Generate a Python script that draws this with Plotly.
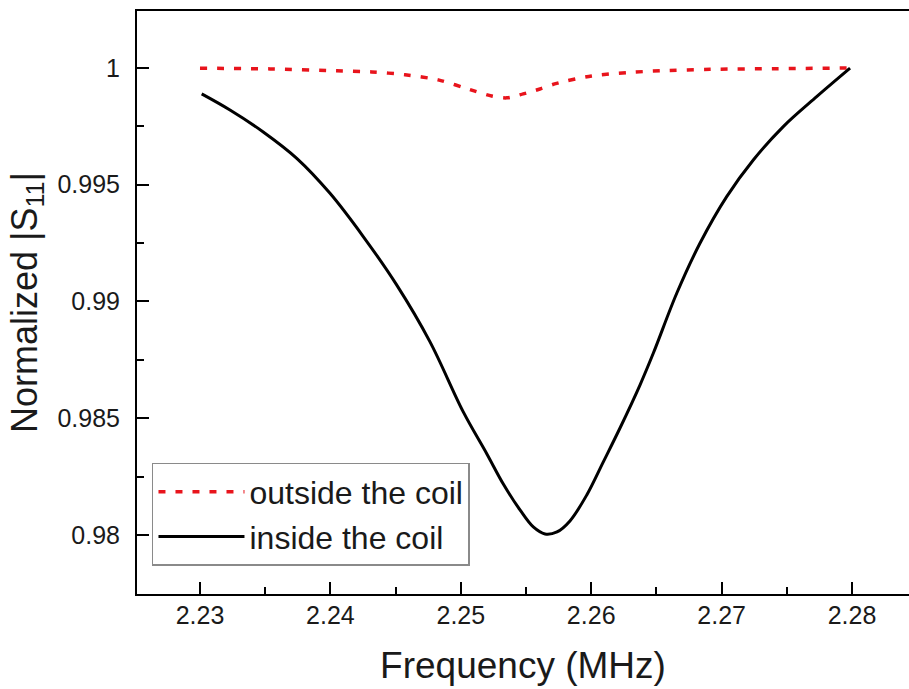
import plotly.graph_objects as go

# Frequency (MHz) and normalized |S11|
freq_outside = [2.2300, 2.23537, 2.24048, 2.24317, 2.24572, 2.24827, 2.25096, 2.25237,
                2.25352, 2.25479, 2.25607, 2.25735, 2.26004, 2.26272, 2.26528, 2.26911,
                2.27422, 2.2800]
s11_outside = [0.99999, 0.99996, 0.99988, 0.99983, 0.99971, 0.99949, 0.99903, 0.99880,
               0.99872, 0.99889, 0.99910, 0.99934, 0.99966, 0.99980, 0.99988, 0.99994,
               0.99997, 1.0000]

freq_inside = [2.23013, 2.23230, 2.23485, 2.23742, 2.23997, 2.24252, 2.24508, 2.24764,
               2.25019, 2.25199, 2.25326, 2.25454, 2.25556, 2.25646, 2.25738, 2.25837,
               2.25966, 2.26093, 2.26221, 2.26374, 2.26476, 2.26656, 2.26834, 2.27039,
               2.27243, 2.27473, 2.27729, 2.27985]
s11_inside = [0.99889, 0.99820, 0.99726, 0.99613, 0.99463, 0.99278, 0.99071, 0.98827,
              0.98527, 0.98348, 0.98218, 0.98107, 0.98034, 0.98004, 0.98013, 0.98060,
              0.98171, 0.98313, 0.98458, 0.98642, 0.98778, 0.99035, 0.99249, 0.99449,
              0.99606, 0.99749, 0.99877, 0.99999]

x_tickvals = [2.23, 2.24, 2.25, 2.26, 2.27, 2.28]
x_ticktext = ["2.23", "2.24", "2.25", "2.26", "2.27", "2.28"]
y_tickvals = [0.98, 0.985, 0.99, 0.995, 1.0]
y_ticktext = ["0.98", "0.985", "0.99", "0.995", "1"]

FONT = "Liberation Sans, Arial, sans-serif"
TXT = "#1a1a1a"

fig = go.Figure()
fig.add_trace(go.Scatter(
    x=freq_outside, y=s11_outside, mode="lines", name="outside the coil",
    line=dict(color="#e8141c", width=3.5, dash="7px,10px", shape="spline", smoothing=0.8),
))
fig.add_trace(go.Scatter(
    x=freq_inside, y=s11_inside, mode="lines", name="inside the coil",
    line=dict(color="black", width=3, shape="spline", smoothing=1.0),
))

fig.update_layout(
    width=909, height=689,
    margin=dict(l=137, r=0, t=11, b=95),
    paper_bgcolor="white", plot_bgcolor="white",
    font=dict(family=FONT, color=TXT),
    showlegend=True,
    legend=dict(
        x=0.0194, y=0.2247, xanchor="left", yanchor="top",
        bgcolor="white", bordercolor="#8a8a8a", borderwidth=1.5,
        font=dict(family=FONT, size=32, color=TXT),
        itemwidth=86, tracegroupgap=0,
    ),
    xaxis=dict(
        range=[2.22517, 2.28437],
        tickvals=x_tickvals, ticktext=x_ticktext,
        showgrid=False, zeroline=False,
        showline=True, linecolor="black", linewidth=2, mirror=True,
        ticks="inside", ticklen=12, tickwidth=2, tickcolor="black",
        minor=dict(ticks="inside", ticklen=7, tickwidth=2, tickcolor="black",
                   dtick=0.005, tick0=2.225, showgrid=False),
        tickfont=dict(family=FONT, size=25, color=TXT),
        ticklabelstandoff=-2,
        title=dict(text="Frequency (MHz)", font=dict(family=FONT, size=37, color=TXT),
                   standoff=24),
    ),
    yaxis=dict(
        range=[0.97747, 1.00244],
        tickvals=y_tickvals, ticktext=y_ticktext,
        showgrid=False, zeroline=False,
        showline=True, linecolor="black", linewidth=2,
        ticks="inside", ticklen=12, tickwidth=2, tickcolor="black",
        minor=dict(ticks="inside", ticklen=7, tickwidth=2, tickcolor="black",
                   dtick=0.0025, tick0=0.9775, showgrid=False),
        tickfont=dict(family=FONT, size=25, color=TXT),
        ticklabelstandoff=10,
        title=dict(text="Normalized |S<sub>11</sub>|", font=dict(family=FONT, size=36, color=TXT),
                   standoff=9),
    ),
)

fig.write_html("out.html")
